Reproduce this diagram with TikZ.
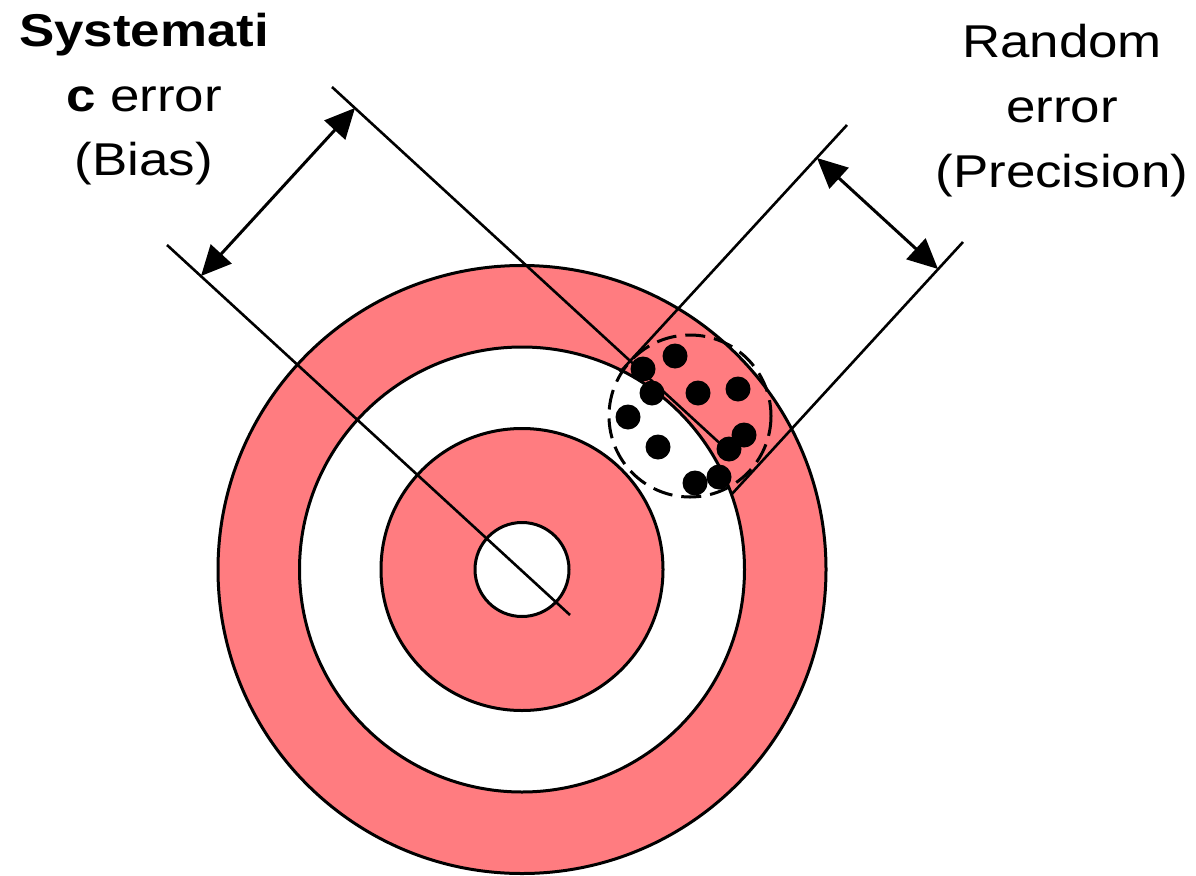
\documentclass[tikz,border=0pt]{standalone}
\usepackage{fontspec}
\newfontfamily\lab{Liberation Sans}[FakeStretch=1.15]
\usetikzlibrary{arrows.meta}
\definecolor{ringpink}{HTML}{FF7C80}
\begin{document}
\begin{tikzpicture}[x=1pt,y=-1pt,
  ring/.style={draw=black,line width=3pt},
  guide/.style={draw=black,line width=2.6pt},
  dim/.style={draw=black,line width=3pt,{Triangle[length=30pt,width=28pt]}-{Triangle[length=30pt,width=28pt]}},
  shot/.style={circle,fill=black,inner sep=0pt,minimum size=25pt},
  cluster/.style={draw=black,line width=3pt,dash pattern=on 20pt off 9pt},
  label/.style={inner sep=0pt,anchor=base,font=\lab\fontsize{46}{64}\selectfont}]
\useasboundingbox (0,0) rectangle (1196,875);
% target
\coordinate (c) at (522,569.5);
\filldraw[ring,fill=ringpink] (c) circle[radius=304];
\filldraw[ring,fill=white] (c) circle[radius=222.5];
\filldraw[ring,fill=ringpink] (c) circle[radius=141];
\filldraw[ring,fill=white] (c) circle[radius=47];
% guide lines
\coordinate (b1s) at (167,245);
\coordinate (b1e) at (570,615);
\coordinate (b2s) at (332,87);
\coordinate (b2e) at (726,449);
\coordinate (p1s) at (847,125);
\coordinate (p1e) at (620,372);
\coordinate (p2s) at (963,242);
\coordinate (p2e) at (731,495);
\draw[guide] (b1s) -- (b1e);
\draw[guide] (b2s) -- (b2e);
\draw[guide] (p1s) -- (p1e);
\draw[guide] (p2s) -- (p2e);
% dimension arrows
\coordinate (ba1) at (201,276);
\coordinate (ba2) at (355,108);
\coordinate (pa1) at (817,158);
\coordinate (pa2) at (938,269);
\draw[dim] (ba1) -- (ba2);
\draw[dim] (pa1) -- (pa2);
% cluster
\draw[cluster] (690,416) circle[radius=81];
\foreach \n/\p in {1/{(675,356)},2/{(643,369)},3/{(652,393)},4/{(698,393)},5/{(738,389)},6/{(628,417)},7/{(744,435)},8/{(729,449)},9/{(658,447)},10/{(719,477)},11/{(695,483)}}
  \node[shot] (d\n) at \p {};
% labels
\node[label] (s1) at (144,47) {\bfseries Systemati};
\node[label] (s2) at (144,111) {\textbf{c} error};
\node[label] (s3) at (144,175) {(Bias)};
\node[label] (r1) at (1062,58) {Random};
\node[label] (r2) at (1062,122) {error};
\node[label] (r3) at (1062,187) {(Precision)};
\end{tikzpicture}
\end{document}
